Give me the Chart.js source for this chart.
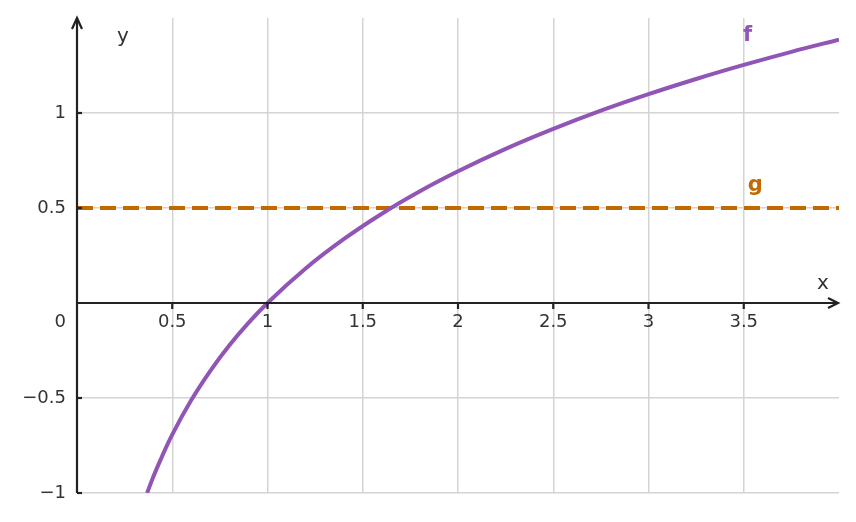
<!DOCTYPE html>
<html><head><meta charset="utf-8">
<script src="https://cdn.jsdelivr.net/npm/chart.js@4"></script>
<style>html,body{margin:0;padding:0;background:#fff}#w{width:856px;height:522px}</style>
</head><body><div id="w"><canvas id="c"></canvas></div>
<script>
const fX=[0.368,0.4,0.45,0.5,0.6,0.7,0.8,0.9,1,1.2,1.4,1.6,1.8,2,2.25,2.5,2.75,3,3.25,3.5,3.75,4];
const fY=[-1,-0.916,-0.799,-0.693,-0.511,-0.357,-0.223,-0.105,0,0.182,0.336,0.47,0.588,0.693,0.811,0.916,1.012,1.099,1.179,1.253,1.322,1.386];
const gX=[0,4];
const gY=[0.5,0.5];
const xTicks=[0.5,1,1.5,2,2.5,3,3.5];
const yTicks=[-1,-0.5,0.5,1];
const PURPLE='#9155b5', ORANGE='#c06a00', INK='#222';
const fmt=v=>(v<0?'\u2212':'')+Math.abs(v);
const axes={id:'axes',afterDatasetsDraw(ch){
 const c=ch.ctx,xs=ch.scales.x,ys=ch.scales.y,a=ch.chartArea;
 const x0=xs.getPixelForValue(0),y0=ys.getPixelForValue(0);
 c.save();c.strokeStyle=INK;c.fillStyle=INK;c.lineWidth=2.2;
 c.beginPath();c.moveTo(x0,a.bottom);c.lineTo(x0,a.top+2);c.stroke();
 c.beginPath();c.moveTo(x0,y0);c.lineTo(a.right-3,y0);c.stroke();
 c.beginPath();c.moveTo(x0-5,a.top+11);c.lineTo(x0,a.top);c.lineTo(x0+5,a.top+11);c.stroke();
 c.beginPath();c.moveTo(a.right-11,y0-5);c.lineTo(a.right-1,y0);c.lineTo(a.right-11,y0+5);c.stroke();
 c.font='18px "DejaVu Sans"';c.fillStyle='#333';
 c.textAlign='center';c.textBaseline='middle';
 xTicks.forEach(v=>{const p=xs.getPixelForValue(v);c.beginPath();c.moveTo(p,y0);c.lineTo(p,y0+6);c.stroke();c.fillText(fmt(v),p,y0+19);});
 c.textAlign='right';
 yTicks.forEach(v=>{const p=ys.getPixelForValue(v);c.beginPath();c.moveTo(x0,p);c.lineTo(x0+5,p);c.stroke();c.fillText(fmt(v),x0-11,p);});
 c.fillText('0',x0-11,y0+19);
 c.font='20px "DejaVu Sans"';c.textAlign='center';
 c.fillText('x',a.right-16,y0-19);c.fillText('y',x0+46,a.top+19);
 c.font='bold 21px "DejaVu Sans"';
 c.fillStyle=PURPLE;c.fillText('f',xs.getPixelForValue(3.52),a.top+18);
 c.fillStyle=ORANGE;c.fillText('g',xs.getPixelForValue(3.56),ys.getPixelForValue(0.62));
 c.restore();}};
const gc=(max)=>ctx=>(ctx.tick&&ctx.tick.value>=max)?'rgba(0,0,0,0)':'#d4d4d4';
new Chart(document.getElementById('c'),{type:'scatter',
 data:{datasets:[
  {data:fX.map((x,i)=>({x,y:fY[i]})),showLine:true,borderColor:PURPLE,borderWidth:4,pointRadius:0,cubicInterpolationMode:'monotone'},
  {data:gX.map((x,i)=>({x,y:gY[i]})),showLine:true,borderColor:ORANGE,borderWidth:4,borderDash:[16,7],pointRadius:0}]},
 options:{responsive:true,maintainAspectRatio:false,animation:false,
  layout:{padding:{left:77,right:17,top:18,bottom:29}},
  plugins:{legend:{display:false},tooltip:{enabled:false}},
  scales:{
   x:{type:'linear',min:0,max:4,ticks:{display:false,stepSize:0.5},border:{display:false},grid:{color:gc(4),lineWidth:1.5,drawTicks:false}},
   y:{type:'linear',min:-1,max:1.5,ticks:{display:false,stepSize:0.5},border:{display:false},grid:{color:gc(1.5),lineWidth:1.5,drawTicks:false}}}},
 plugins:[axes]});
</script></body></html>
